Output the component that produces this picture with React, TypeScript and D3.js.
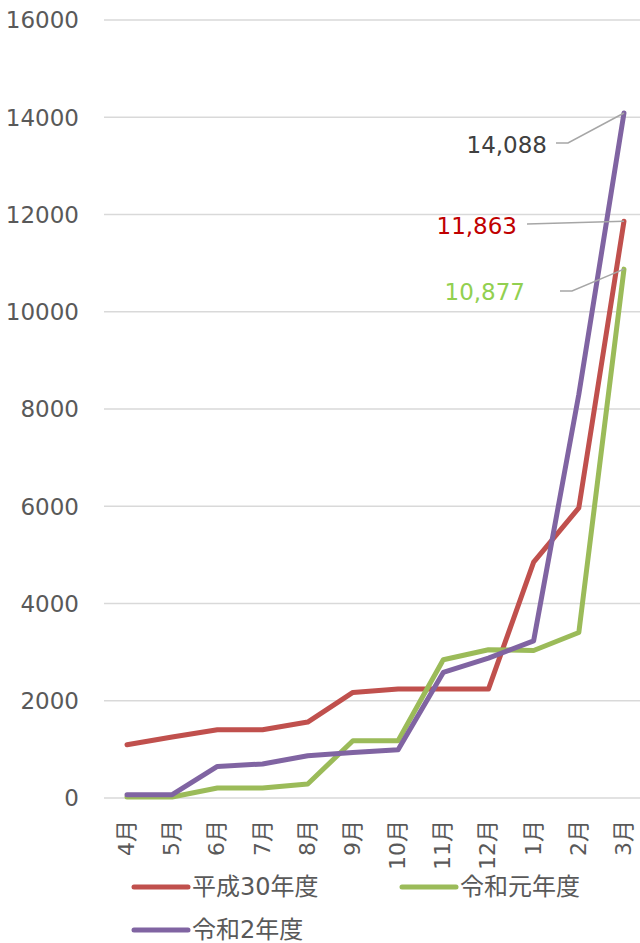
import React, { useEffect, useRef } from 'react';
import * as d3 from 'd3';

const months = ['4月', '5月', '6月', '7月', '8月', '9月', '10月', '11月', '12月', '1月', '2月', '3月'];
const yTicks = [0, 2000, 4000, 6000, 8000, 10000, 12000, 14000, 16000];

const h30 = [1096, 1254, 1404, 1404, 1562, 2171, 2240, 2240, 2240, 4850, 5967, 11863];
const r1 = [20, 20, 205, 205, 288, 1178, 1178, 2843, 3048, 3034, 3404, 10877];
const r2 = [68, 68, 650, 699, 869, 938, 993, 2582, 2877, 3233, 8300, 14088];

const seriesNames = ['平成30年度', '令和元年度', '令和2年度'];
const seriesColors = ['#C0504D', '#9BBB59', '#8064A2'];
const labelColors = ['#C00000', '#92D050', '#404040'];

export default function App() {
  const ref = useRef<SVGSVGElement>(null);

  useEffect(() => {
    if (!ref.current) return;
    document.body.style.margin = '0';
    const svg = d3.select(ref.current);
    svg.selectAll('*').remove();

    const width = 640;
    const series = [h30, r1, r2];

    const x = d3.scalePoint<string>().domain(months).range([127, 624]);
    const y = d3.scaleLinear().domain([0, 16000]).range([798, 20]);
    const font = '"DejaVu Sans", "Noto Sans CJK JP", sans-serif';

    // gridlines
    svg.append('g')
      .selectAll('line')
      .data(yTicks)
      .join('line')
      .attr('x1', 104)
      .attr('x2', width)
      .attr('y1', d => y(d))
      .attr('y2', d => y(d))
      .attr('stroke', '#D9D9D9')
      .attr('stroke-width', 1.5);

    // y labels
    svg.append('g')
      .selectAll('text')
      .data(yTicks)
      .join('text')
      .attr('x', 79)
      .attr('y', d => y(d))
      .attr('dy', '0.36em')
      .attr('text-anchor', 'end')
      .attr('fill', '#595959')
      .style('font', `23px ${font}`)
      .text(d => d);

    // x labels
    svg.append('g')
      .selectAll('text')
      .data(months)
      .join('text')
      .attr('transform', d => `translate(${x(d)! + 7},820) rotate(-90)`)
      .attr('text-anchor', 'end')
      .attr('fill', '#595959')
      .style('font', `22px ${font}`)
      .text(d => d);

    const line = d3.line<number>()
      .x((_, i) => x(months[i])!)
      .y(d => y(d));

    svg.append('g')
      .selectAll('path')
      .data(series)
      .join('path')
      .attr('d', d => line(d))
      .attr('fill', 'none')
      .attr('stroke', (_, i) => seriesColors[i])
      .attr('stroke-width', 5)
      .attr('stroke-linejoin', 'round')
      .attr('stroke-linecap', 'round');

    // end labels with leader lines
    const last = months[months.length - 1];
    const labels = [
      { s: 0, tx: 517, ty: 226, path: [[527, 224]] },
      { s: 1, tx: 525, ty: 292, path: [[560, 291], [572, 291]] },
      { s: 2, tx: 547, ty: 145, path: [[556, 143], [568, 143]] },
    ];
    labels.forEach(l => {
      const v = series[l.s][series[l.s].length - 1];
      const pts = [...l.path, [x(last)!, y(v)]] as [number, number][];
      svg.append('path')
        .attr('d', d3.line()(pts))
        .attr('fill', 'none')
        .attr('stroke', '#A6A6A6')
        .attr('stroke-width', 1.5);
      svg.append('text')
        .attr('x', l.tx)
        .attr('y', l.ty)
        .attr('dy', '0.36em')
        .attr('text-anchor', 'end')
        .attr('fill', labelColors[l.s])
        .style('font', `23px ${font}`)
        .text(d3.format(',')(v));
    });

    // legend
    const legendPos = [[134, 887], [402, 887], [134, 930]];
    seriesNames.forEach((name, i) => {
      const [lx, ly] = legendPos[i];
      const g = svg.append('g');
      g.append('line')
        .attr('x1', lx).attr('x2', lx + 54)
        .attr('y1', ly).attr('y2', ly)
        .attr('stroke', seriesColors[i])
        .attr('stroke-width', 5)
        .attr('stroke-linecap', 'round');
      g.append('text')
        .attr('x', lx + 58)
        .attr('y', ly)
        .attr('dy', '0.35em')
        .attr('fill', '#595959')
        .style('font', `24px ${font}`)
        .text(name);
    });
  }, []);

  return <svg ref={ref} width={640} height={943} style={{ display: 'block', background: '#fff' }} />;
}
